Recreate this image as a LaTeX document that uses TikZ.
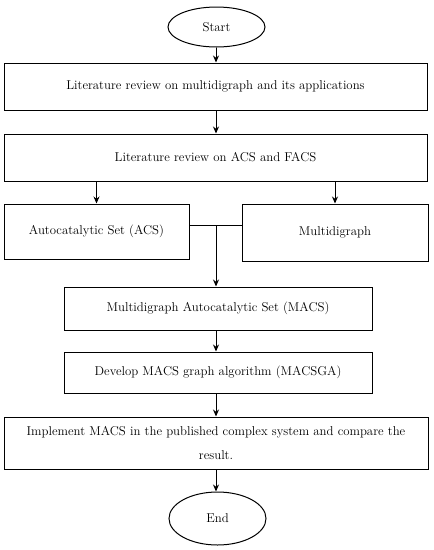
\documentclass[tikz,border=0pt]{standalone}
\usetikzlibrary{arrows.meta,shapes.geometric}
\begin{document}
\begin{tikzpicture}[x=1pt,y=-1pt,line width=1pt,
    every node/.style={font=\fontsize{12.8}{24}\selectfont,inner sep=0pt},
    stepbox/.style={draw,rectangle,align=center},
    terminal/.style={draw,ellipse,minimum width=97pt},
    flow/.style={-{Stealth[length=7pt,width=6pt]}}]
  \useasboundingbox (0,0) rectangle (434,550);
  \draw
    (216.5,27) node[terminal,minimum height=40pt] (start){Start}
    (215.5,86.5) node[stepbox,minimum width=423pt,minimum height=47pt] (litmulti){Literature review on multidigraph and its applications}
    (215.5,157.5) node[stepbox,minimum width=423pt,minimum height=47pt] (litacs){Literature review on ACS and FACS}
    (96.5,231.5) node[stepbox,minimum width=185pt,minimum height=55pt] (acs){Autocatalytic Set (ACS)}
    (335,232.5) node[stepbox,minimum width=186pt,minimum height=57pt] (multi){Multidigraph}
    (218,308.5) node[stepbox,minimum width=308pt,minimum height=43pt] (macs){Multidigraph Autocatalytic Set (MACS)}
    (218,372.5) node[stepbox,minimum width=308pt,minimum height=41pt] (macsga){Develop MACS graph algorithm (MACSGA)}
    (216,443) node[stepbox,minimum width=424pt,minimum height=52pt] (impl){Implement MACS in the published complex system and compare the\\result.}
    (217.5,518.5) node[terminal,minimum height=53pt] (end){End};
  \coordinate (join) at (216,225);
  \coordinate (mid) at (216,0);
  \begin{scope}[flow]
    \draw (start.south -| mid) to (litmulti.north -| mid);
    \draw (litmulti.south -| mid) to (litacs.north -| mid);
    \draw (litacs.south -| acs.north) to (acs.north);
    \draw (litacs.south -| multi.north) to (multi.north);
    \draw (join) to (join |- macs.north);
    \draw (macs.south -| mid) to (macsga.north -| mid);
    \draw (macsga.south -| mid) to (impl.north -| mid);
    \draw (impl.south -| mid) to (end.north -| mid);
  \end{scope}
  \draw (join -| acs.east) -- (join -| multi.west);
\end{tikzpicture}
\end{document}
